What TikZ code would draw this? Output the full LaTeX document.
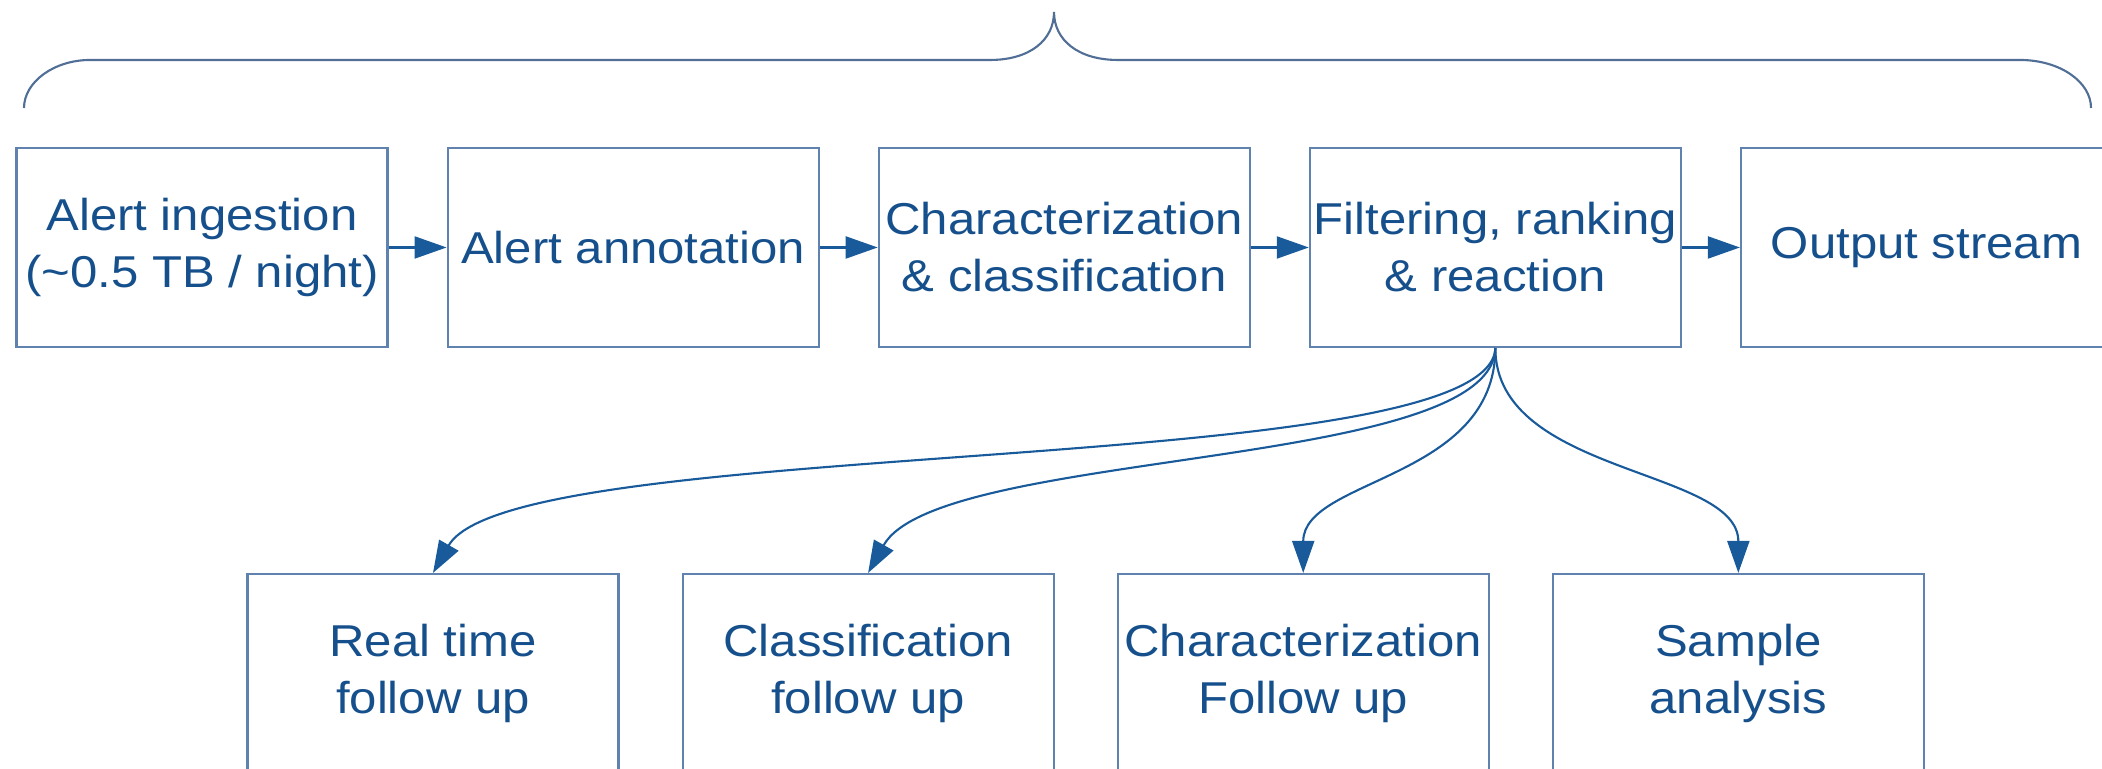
\documentclass[tikz,border=0pt]{standalone}
\usepackage{fontspec}
\setmainfont{Liberation Sans}[FakeStretch=1.1]
\usetikzlibrary{arrows.meta,positioning}

\definecolor{txtblue}{RGB}{22,80,140}
\definecolor{edgeblue}{RGB}{95,130,175}
\definecolor{arrowblue}{RGB}{25,90,155}
\definecolor{bracegray}{RGB}{80,110,150}

\begin{document}
\begin{tikzpicture}[
        node distance=0.58cm and 0.58cm,
        every node/.style={
                draw=edgeblue,
                text=txtblue,
                font=\fontsize{12.7}{16.2}\selectfont,
                minimum width=3.71cm,
                minimum height=1.99cm,
                align=center,
                inner sep=0pt,
                line width=0.6pt
            },
        flow/.style={-{Triangle[length=3.2mm,width=2.2mm]}, draw=arrowblue, line width=0.6pt}
    ]
    \useasboundingbox (0,0) rectangle (21.02,7.69);
    \clip (0,0) rectangle (21.02,7.69);

    % pipeline
    \node (ingest) at (2.02,5.215) {Alert ingestion\\(\textasciitilde0.5 TB / night)};
    \node[right=of ingest] (annot) {Alert annotation};
    \node[right=of annot] (charclass) {Characterization\\\& classification};
    \node[right=of charclass] (filter) {Filtering, ranking\\\& reaction};
    \node[right=of filter] (output) {Output stream};

    % follow up
    \node (realtime) at (4.33,0.955) {Real time\\follow up};
    \node[right=0.62cm of realtime] (classfu) {Classification\\follow up};
    \node[right=0.62cm of classfu] (charfu) {Characterization\\Follow up};
    \node[right=0.62cm of charfu] (sample) {Sample\\analysis};

    \draw[flow] (ingest) -- (annot);
    \draw[flow] (annot) -- (charclass);
    \draw[flow] (charclass) -- (filter);
    \draw[flow] (filter) -- (output);

    \draw[flow] (filter.south) .. controls +(-0.05,-1.33) and +(0.80,1.40) .. (realtime.north);
    \draw[flow] (filter.south) .. controls +(-0.03,-1.23) and +(0.70,1.25) .. (classfu.north);
    \draw[flow] (filter.south) .. controls +(0,-1.32) and +(0,0.95) .. (charfu.north);
    \draw[flow] (filter.south) .. controls +(0,-1.27) and +(0,1.05) .. (sample.north);

    % brace
    \draw[bracegray, line width=0.6pt] (0.24,6.61) .. controls (0.24,6.87) and (0.54,7.09) .. (0.90,7.09)
        -- (9.90,7.09) .. controls (10.30,7.09) and (10.54,7.29) .. (10.54,7.57)
        .. controls (10.54,7.29) and (10.78,7.09) .. (11.18,7.09)
        -- (20.20,7.09) .. controls (20.60,7.09) and (20.91,6.87) .. (20.91,6.61);
\end{tikzpicture}
\end{document}
